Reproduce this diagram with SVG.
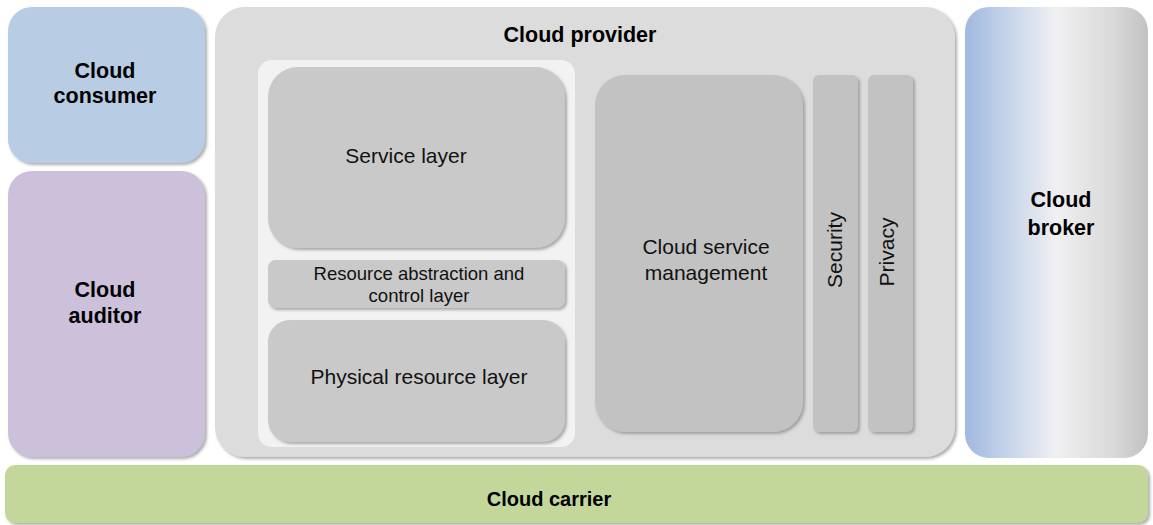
<svg xmlns="http://www.w3.org/2000/svg" width="1153" height="525" viewBox="0 0 1153 525">
<style>
  .b{font-family:"Liberation Sans",Arial,sans-serif;font-weight:bold;font-size:21.5px;fill:#000;text-anchor:middle}
  .r{font-family:"Liberation Sans",Arial,sans-serif;font-size:21px;fill:#111;text-anchor:middle}
  .s{font-family:"Liberation Sans",Arial,sans-serif;font-size:18.5px;fill:#111;text-anchor:middle}
  .box{fill:#c9c9c9;filter:url(#sh)}
  .box2{fill:#c2c2c2;filter:url(#sh)}
</style>
<defs>
  <filter id="sh" x="-10%" y="-10%" width="125%" height="125%">
    <feDropShadow dx="2" dy="2" stdDeviation="1.5" flood-color="#777" flood-opacity="0.6"/>
  </filter>
  <linearGradient id="bk" x1="0" y1="0" x2="1" y2="0">
    <stop offset="0" stop-color="#9fb9e0"/>
    <stop offset="0.25" stop-color="#c8d6ea"/>
    <stop offset="0.5" stop-color="#f0f0f2"/>
    <stop offset="0.8" stop-color="#dadada"/>
    <stop offset="1" stop-color="#c2c2c2"/>
  </linearGradient>
</defs>
<rect width="1153" height="525" fill="#ffffff"/>
<g id="consumer">
  <rect x="8" y="7" width="197" height="156" rx="24" fill="#b8cce4" filter="url(#sh)"/>
  <text class="b" x="105" y="78">Cloud</text>
  <text class="b" x="105" y="103">consumer</text>
</g>
<g id="auditor">
  <rect x="8" y="171" width="197" height="286" rx="24" fill="#ccc0da" filter="url(#sh)"/>
  <text class="b" x="105" y="297">Cloud</text>
  <text class="b" x="105" y="323">auditor</text>
</g>
<g id="provider">
  <rect x="215" y="7" width="740" height="450" rx="30" fill="#dcdcdc" filter="url(#sh)"/>
  <text class="b" x="580" y="42">Cloud provider</text>
  <rect x="258" y="60" width="317" height="387" rx="14" fill="#f2f2f2"/>
</g>
<g id="service-layer">
  <rect class="box" x="268" y="67" width="297" height="181" rx="30"/>
  <text class="r" x="406" y="163">Service layer</text>
</g>
<g id="resource-abstraction">
  <rect class="box" x="268" y="260" width="297" height="48" rx="8"/>
  <text class="s" x="419" y="280">Resource abstraction and</text>
  <text class="s" x="419" y="302">control layer</text>
</g>
<g id="physical-layer">
  <rect class="box" x="268" y="320" width="297" height="122" rx="22"/>
  <text class="r" x="419" y="384">Physical resource layer</text>
</g>
<g id="service-management">
  <rect class="box2" x="595" y="75" width="208" height="357" rx="30"/>
  <text class="r" x="706" y="254">Cloud service</text>
  <text class="r" x="706" y="280">management</text>
</g>
<g id="security">
  <rect class="box2" x="813" y="75" width="45" height="357" rx="6"/>
  <text class="r" transform="translate(842,250) rotate(-90)">Security</text>
</g>
<g id="privacy">
  <rect class="box2" x="868" y="75" width="45" height="357" rx="6"/>
  <text class="r" transform="translate(894,252) rotate(-90)">Privacy</text>
</g>
<g id="broker">
  <rect x="965" y="7" width="183" height="451" rx="24" fill="url(#bk)"/>
  <text class="b" x="1061" y="207" font-size="23px">Cloud</text>
  <text class="b" x="1061" y="235" font-size="23px">broker</text>
</g>
<g id="carrier">
  <rect x="5" y="465" width="1143" height="58" rx="10" fill="#c4d79b" filter="url(#sh)"/>
  <text class="b" x="549" y="506" style="font-size:20px">Cloud carrier</text>
</g>
<g id="connectors"></g>
</svg>
